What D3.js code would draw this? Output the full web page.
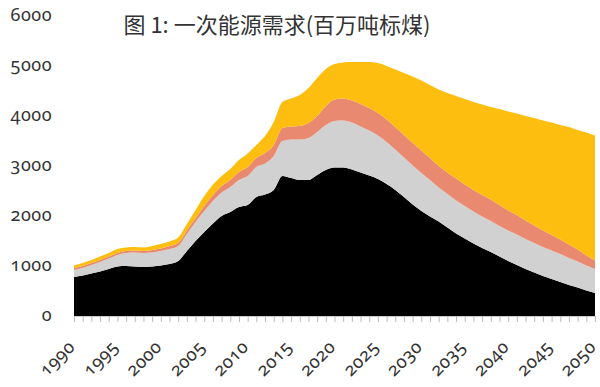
<!DOCTYPE html>
<html>
<head>
<meta charset="utf-8">
<script src="https://cdn.jsdelivr.net/npm/d3@7"></script>
<style>
  body { margin: 0; background: #fff; }
  svg text { font-family: "Noto Sans", "DejaVu Sans", sans-serif; fill: #333; }
  .num { font-variant-numeric: oldstyle-nums; font-feature-settings: "onum" 1; letter-spacing: 0.5px; }
</style>
</head>
<body>
<div id="chart"></div>
<script>
var years = d3.range(1990, 2051);
var yTicks = [0, 1000, 2000, 3000, 4000, 5000, 6000];
var xLabels = [1990, 1995, 2000, 2005, 2010, 2015, 2020, 2025, 2030, 2035, 2040, 2045, 2050];

// 煤炭
var coal = [780, 810, 850, 890, 940, 990, 1000, 990, 980, 990,
    1010, 1040, 1100, 1300, 1500, 1680, 1850, 2000, 2080, 2180,
    2220, 2380, 2430, 2520, 2800, 2760, 2720, 2720, 2820, 2920,
    2970, 2970, 2930, 2870, 2810, 2740, 2640, 2520, 2380, 2230,
    2100, 1990, 1890, 1770, 1650, 1550, 1450, 1360, 1280, 1190,
    1100, 1020, 940, 870, 800, 740, 680, 620, 570, 510,
    460];
// 石油
var oil = [140, 150, 170, 190, 210, 230, 260, 280, 280, 280,
    290, 300, 300, 340, 380, 420, 450, 470, 500, 540,
    580, 600, 620, 680, 700, 770, 810, 840, 860, 900,
    930, 940, 940, 920, 900, 870, 840, 810, 790, 780,
    760, 730, 680, 670, 660, 650, 640, 630, 620, 610,
    610, 610, 600, 590, 580, 570, 560, 540, 520, 500,
    480];
// 天然气
var gas = [40, 40, 40, 40, 40, 40, 40, 40, 40, 50,
    50, 60, 60, 70, 80, 100, 120, 130, 140, 160,
    180, 180, 210, 220, 260, 260, 270, 300, 320, 380,
    430, 440, 440, 450, 450, 450, 450, 450, 450, 450,
    450, 440, 430, 430, 440, 430, 430, 430, 430, 420,
    400, 390, 370, 350, 330, 310, 290, 270, 240, 200,
    170];
// 非化石能源
var nonFossil = [50, 60, 60, 70, 70, 80, 70, 70, 70, 80,
    90, 90, 110, 130, 160, 200, 210, 200, 220, 240,
    270, 260, 340, 460, 520, 560, 620, 700, 760, 740,
    710, 720, 770, 840, 920, 1000, 1070, 1150, 1240, 1330,
    1400, 1460, 1530, 1590, 1650, 1710, 1760, 1810, 1850, 1920,
    1980, 2030, 2090, 2150, 2200, 2250, 2290, 2350, 2390, 2460,
    2500];

var keys = ["coal", "oil", "gas", "nonFossil"];
var colors = ["#000000", "#d1d1d1", "#e98a70", "#fdbe0f"];

var rows = years.map(function(y, i) {
    return {year: y, coal: coal[i], oil: oil[i], gas: gas[i], nonFossil: nonFossil[i]};
});

var W = 600, H = 387;
var margin = {top: 16, right: 5, bottom: 71, left: 74};
var width = W - margin.left - margin.right,
    height = H - margin.top - margin.bottom;

var svg = d3.select("#chart").append("svg")
    .attr("width", W)
    .attr("height", H);

var g = svg.append("g")
    .attr("transform", "translate(" + margin.left + "," + margin.top + ")");

var x = d3.scaleLinear().domain([1990, 2050]).range([0, width]);
var y = d3.scaleLinear().domain([0, 6000]).range([height, 0]);

var series = d3.stack().keys(keys)(rows);

var area = d3.area()
    .x(function(d) { return x(d.data.year); })
    .y0(function(d) { return y(d[0]); })
    .y1(function(d) { return y(d[1]); })
    .curve(d3.curveMonotoneX);

g.selectAll(".layer")
    .data(series)
    .enter().append("path")
    .attr("class", "layer")
    .attr("d", area)
    .attr("fill", function(d, i) { return colors[i]; });

// y axis, labels only
g.selectAll(".ylab")
    .data(yTicks)
    .enter().append("text")
    .attr("class", "ylab num")
    .attr("x", -22)
    .attr("y", function(d) { return y(d); })
    .attr("dy", "0.3em")
    .attr("text-anchor", "end")
    .style("font-size", "18px")
    .text(function(d) { return d; });

// x axis, tick every year
var xAxis = d3.axisBottom(x)
    .tickValues(years)
    .tickSize(6)
    .tickFormat("");
var xg = g.append("g")
    .attr("transform", "translate(0," + height + ")")
    .call(xAxis);
xg.select(".domain").attr("stroke", "#ccc");
xg.selectAll(".tick line").attr("stroke", "#bbb");

g.selectAll(".xlab")
    .data(xLabels)
    .enter().append("text")
    .attr("class", "xlab num")
    .attr("text-anchor", "end")
    .attr("transform", function(d) {
        return "translate(" + (x(d) + 2) + "," + (height + 32) + ") rotate(-45)";
    })
    .style("font-size", "18px")
    .text(function(d) { return d; });

svg.append("text")
    .attr("x", 277)
    .attr("y", 33)
    .attr("text-anchor", "middle")
    .style("font-family", "'Noto Sans CJK SC', sans-serif")
    .style("font-size", "22px")
    .text("图 1: 一次能源需求(百万吨标煤)");
</script>
</body>
</html>
